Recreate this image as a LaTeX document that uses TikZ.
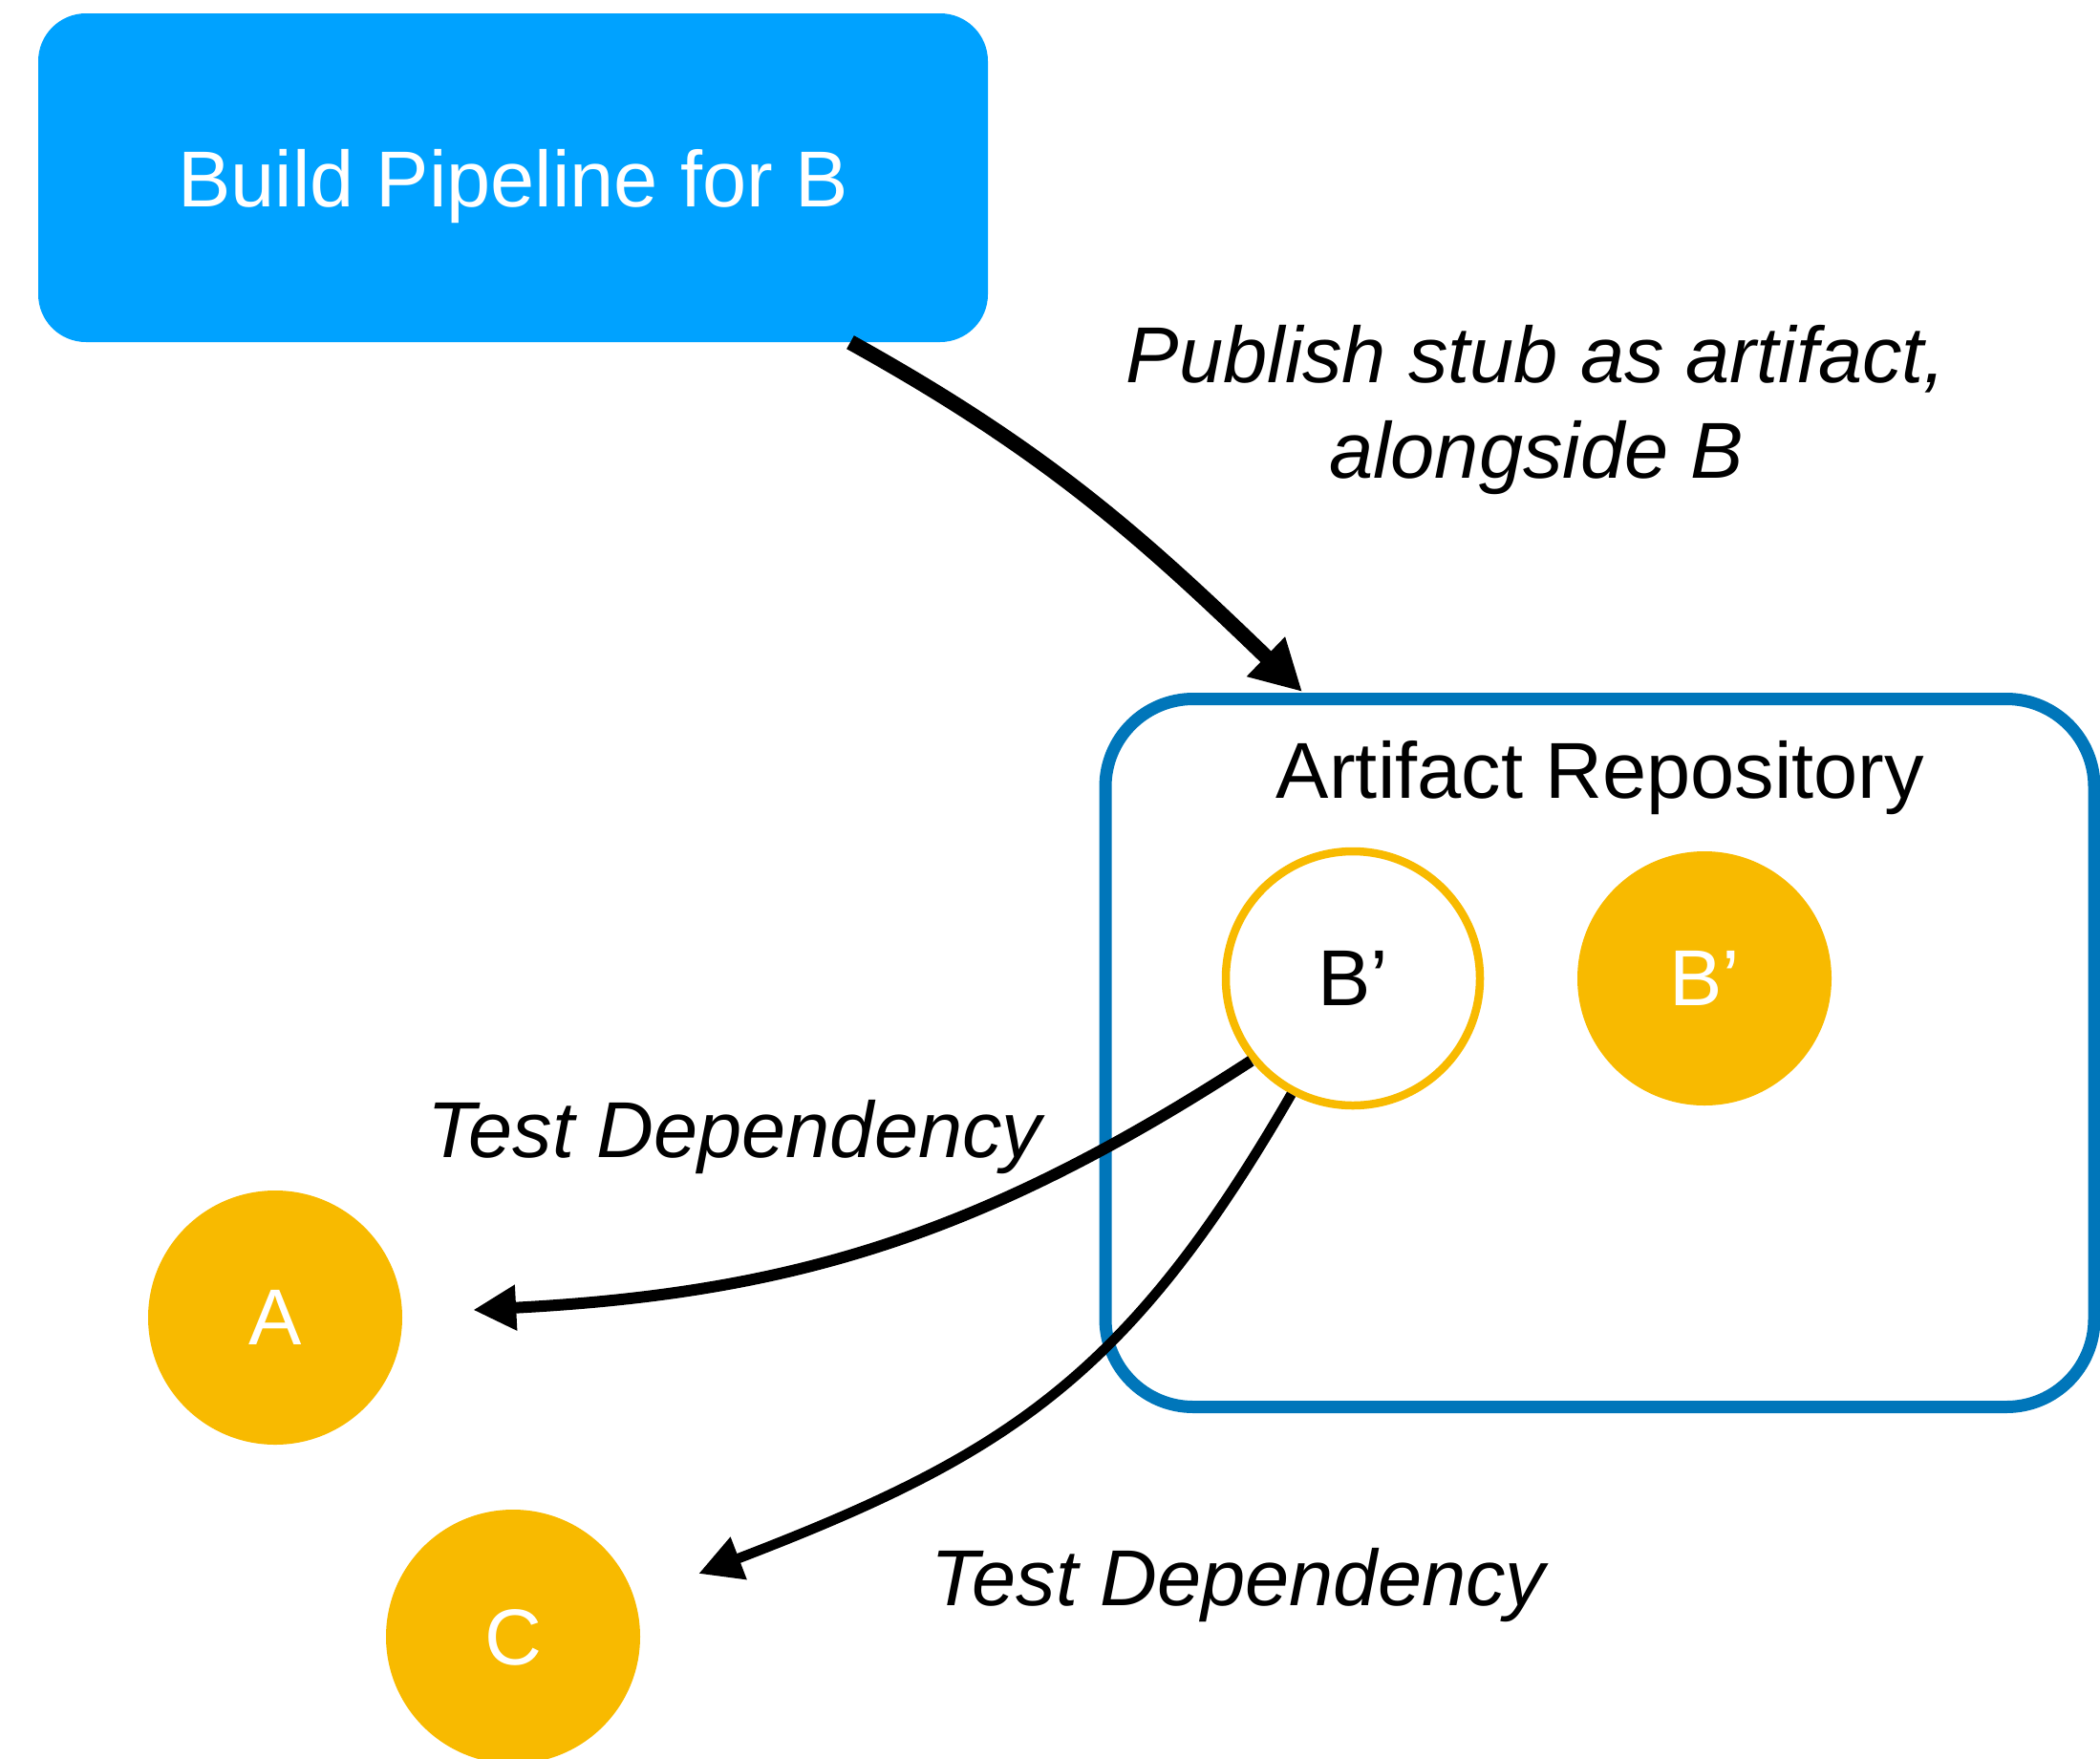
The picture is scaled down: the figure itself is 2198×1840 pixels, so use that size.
\documentclass[tikz,border=0pt]{standalone}
\usepackage{fontspec}
\setmainfont{Liberation Sans}
\usetikzlibrary{arrows.meta}

\definecolor{pipeblue}{RGB}{0,162,255}
\definecolor{repoblue}{RGB}{0,118,186}
\definecolor{gold}{RGB}{248,186,0}

\begin{document}
\begin{tikzpicture}[x=1pt,y=1pt,
  big/.style={font=\fontsize{83pt}{100pt}\selectfont},
  bigit/.style={font=\fontsize{83pt}{100pt}\selectfont\itshape},
  pipebox/.style={rectangle, fill=pipeblue, rounded corners=50pt,
    minimum width=994pt, minimum height=344pt, inner sep=0pt,
    text=white, text depth=0pt, big},
  repobox/.style={rectangle, draw=repoblue, line width=13pt, rounded corners=92pt,
    minimum width=1035pt, minimum height=741pt, inner sep=0pt},
  artifact/.style={circle, minimum size=266pt, inner sep=0pt, text depth=0pt, big},
  stubring/.style={artifact, draw=gold, line width=8.5pt, fill=white, text=black},
  filled/.style={artifact, fill=gold, text=white},
  caption/.style={bigit, anchor=base, inner sep=0pt},
  publish/.style={line width=16pt, -{Triangle[length=53pt,width=54pt]}},
  testdep/.style={-{Triangle[length=45pt,width=45pt]}}
]
\useasboundingbox (0,0) rectangle (2198,-1840);

% build pipeline
\node[pipebox] (pipe) at (537,-186) {Build Pipeline for B};

% artifact repository with its two stubs
\node[repobox] (repo) at (1674.5,-1102) {};
\node[big, anchor=base, inner sep=0pt] (repotxt) at (1675,-835) {Artifact Repository};
\node[stubring] (bo) at (1416,-1024) {B’};
\node[filled] (bf) at (1784,-1024) {B’};

% consumers
\node[filled] (a) at (288,-1379) {A};
\node[filled] (c) at (537,-1713) {C};

% publishing the stub
\draw[publish] ([xshift=353pt]pipe.south) to[out=-29,in=136] ([xshift=-311.5pt,yshift=1pt]repo.north);
\node[caption] (pub1) at (1608,-400) {Publish stub as artifact,};
\node[caption] (pub2) at (1608,-500) {alongside B};

% test dependencies
\draw[testdep, line width=12pt] (bo.219) to[out=213,in=3] ([xshift=74pt,yshift=8pt]a.east);
\draw[testdep, line width=10.5pt] (bo.242) to[out=240,in=21,looseness=1.1] ([xshift=61pt,yshift=66pt]c.east);
\node[caption] (dep1) at (769,-1211) {Test Dependency};
\node[caption] (dep2) at (1296,-1680) {Test Dependency};
\end{tikzpicture}
\end{document}
